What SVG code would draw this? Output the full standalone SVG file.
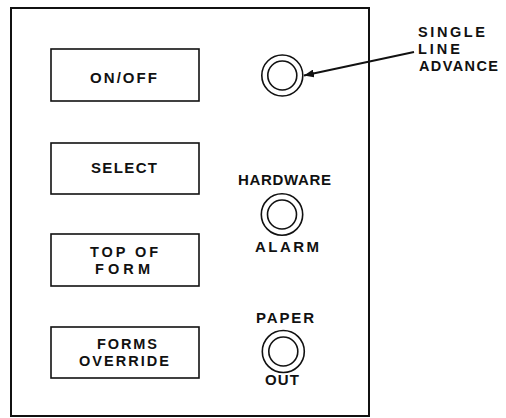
<svg xmlns="http://www.w3.org/2000/svg" width="506" height="418" viewBox="0 0 506 418">
<style>
.box{fill:none;stroke:#111;stroke-width:1.6}
.ring{fill:none;stroke:#111;stroke-width:1.6}
.t{font-family:"Liberation Sans",Arial,sans-serif;font-weight:bold;font-size:15px;fill:#111}
.s{font-size:14.5px}
</style>
<defs>
<marker id="ah" viewBox="0 0 10 8" refX="10" refY="4" markerWidth="10" markerHeight="8" markerUnits="userSpaceOnUse" orient="auto">
<path d="M0,0 L10,4 L0,8 Z" fill="#111"/>
</marker>
</defs>
<rect width="506" height="418" fill="#fff"/>
<rect id="panel" x="11" y="8" width="358" height="408" fill="none" stroke="#111" stroke-width="2"/>
<g id="onoff">
<rect class="box" x="51" y="49" width="148" height="52"/>
<text class="t" x="90" y="82.5" textLength="67" lengthAdjust="spacing">ON/OFF</text>
</g>
<g id="select">
<rect class="box" x="51" y="143" width="148" height="51"/>
<text class="t" x="91" y="173" textLength="66" lengthAdjust="spacing">SELECT</text>
</g>
<g id="topofform">
<rect class="box" x="51" y="234" width="148" height="52"/>
<text class="t s" x="90" y="257" textLength="68" lengthAdjust="spacing">TOP OF</text>
<text class="t s" x="95" y="274" textLength="55" lengthAdjust="spacing">FORM</text>
</g>
<g id="formsoverride">
<rect class="box" x="51" y="327" width="148" height="51"/>
<text class="t s" x="97" y="349" textLength="60" lengthAdjust="spacing">FORMS</text>
<text class="t s" x="79" y="366" textLength="90" lengthAdjust="spacing">OVERRIDE</text>
</g>
<g id="singlelineadvance">
<circle class="ring" cx="282.3" cy="75.5" r="20.5"/>
<circle class="ring" cx="282.3" cy="75.5" r="14.5"/>
<text class="t s" x="418" y="36.5" textLength="67" lengthAdjust="spacing">SINGLE</text>
<text class="t s" x="418" y="53.5" textLength="42" lengthAdjust="spacing">LINE</text>
<text class="t s" x="419" y="71" textLength="79" lengthAdjust="spacing">ADVANCE</text>
</g>
<g id="hardwarealarm">
<circle class="ring" cx="282" cy="214.5" r="20.7"/>
<circle class="ring" cx="282" cy="214.5" r="14.5"/>
<text class="t" x="238" y="185" textLength="93" lengthAdjust="spacing">HARDWARE</text>
<text class="t" x="255" y="252" textLength="64" lengthAdjust="spacing">ALARM</text>
</g>
<g id="paperout">
<circle class="ring" cx="283.3" cy="351.5" r="21"/>
<circle class="ring" cx="283.3" cy="351.5" r="14.5"/>
<text class="t" x="256" y="323" textLength="58" lengthAdjust="spacing">PAPER</text>
<text class="t" x="265" y="385" textLength="34" lengthAdjust="spacing">OUT</text>
</g>
<g id="connectors">
<line x1="414" y1="52" x2="304" y2="75.5" stroke="#111" stroke-width="1.8" marker-end="url(#ah)"/>
</g>
</svg>
